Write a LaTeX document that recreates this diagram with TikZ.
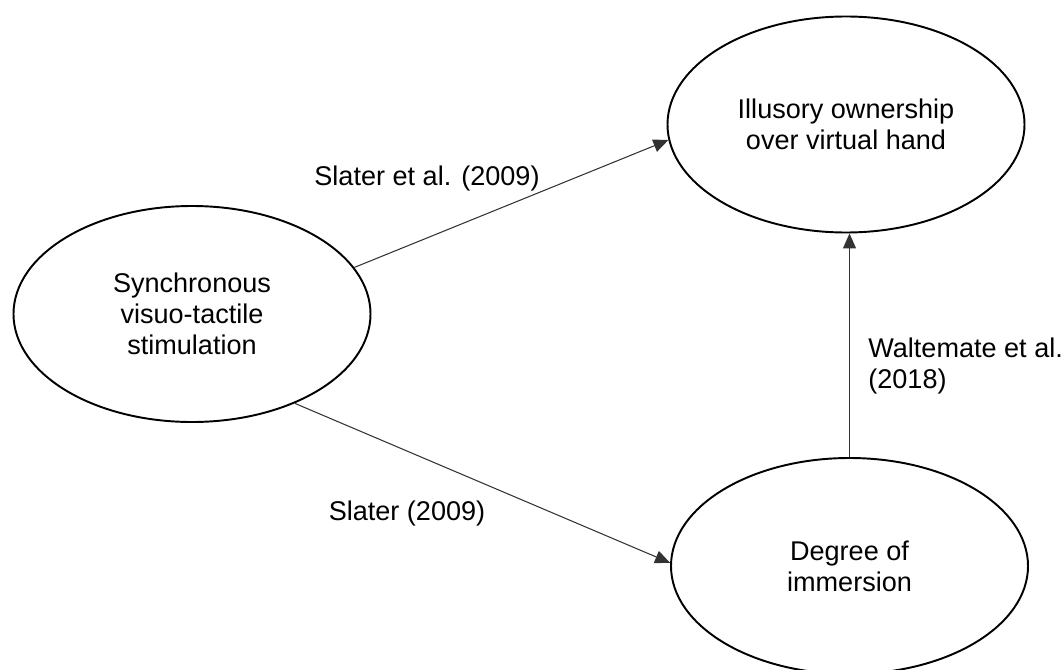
\documentclass[tikz,border=0pt]{standalone}
\usepackage{fontspec}
\setmainfont{Liberation Sans}
\usepackage{tikz}
\usetikzlibrary{shapes.geometric,arrows.meta}

\begin{document}
\begin{tikzpicture}[
    factor/.style={draw,ellipse,line width=1.1pt,inner sep=0,align=center,
      minimum width=7.14cm,minimum height=4.32cm},
    link/.style={-{Triangle[length=0.3cm,width=0.26cm]},line width=0.6pt,draw=black!80},
    cite/.style={align=left,inner sep=0}]
    \useasboundingbox (0,0) rectangle (21.22,-13.4);
    \fontsize{15.4}{17.6}\selectfont

    \node[factor] (sync) at (3.84,-6.28) {Synchronous\\visuo-tactile\\stimulation};
    \node[factor] (own) at (16.92,-2.49) {Illusory ownership\\over virtual hand};
    \node[factor] (imm) at (16.99,-11.32) {Degree of\\immersion};

    \draw[link] (sync.16) -- (own.185);
    \draw[link] (sync.-41) -- (imm.179);
    \draw[link] (imm.north) -- (imm.north |- own.south);

    \node[cite] (c1) at (8.54,-3.56) {Slater et al. (2009)};
    \node[cite] (c2) at (8.14,-10.26) {Slater (2009)};
    \node[cite,anchor=west] (c3) at (17.36,-7.32) {Waltemate et al.\\(2018)};
  \end{tikzpicture}
\end{document}
